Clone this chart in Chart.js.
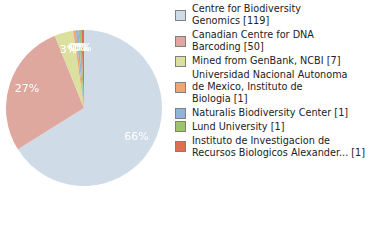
<!DOCTYPE html>
<html>
<head>
<meta charset="utf-8">
<script src="https://cdn.jsdelivr.net/npm/chart.js@4/dist/chart.umd.min.js"></script>
<style>
  body { margin: 0; width: 380px; height: 240px; background: #fff; position: relative; overflow: hidden; font-family: "DejaVu Sans", sans-serif; }
  #wrap { position: absolute; left: 6px; top: 30px; width: 156px; height: 156px; }
  #legend { position: absolute; left: 175px; top: 3px; width: 200px; }
  .item { display: flex; align-items: center; margin-bottom: 1.6px; }
  .box { width: 9px; height: 9px; border: 1px solid #808080; flex: none; margin-right: 6px; }
  .txt { font-size: 9.7px; line-height: 12.2px; color: #222; width: 185px; }
</style>
</head>
<body>
<div id="wrap"><canvas id="pie"></canvas></div>
<div id="legend"></div>
<script>
var labels = [
  ["Centre for Biodiversity", "Genomics"],
  ["Canadian Centre for DNA", "Barcoding"],
  ["Mined from GenBank, NCBI"],
  ["Universidad Nacional Autonoma", "de Mexico, Instituto de", "Biologia"],
  ["Naturalis Biodiversity Center"],
  ["Lund University"],
  ["Instituto de Investigacion de", "Recursos Biologicos Alexander..."]
];
var counts = [119, 50, 7, 1, 1, 1, 1];
var colors = ["#cfdbe7", "#dfa89f", "#dce09f", "#f0a66c", "#8fb3d9", "#9cc46c", "#e06c52"];

var total = counts.reduce(function (a, b) { return a + b; }, 0);

// legend
var legend = document.getElementById("legend");
labels.forEach(function (lines, i) {
  var item = document.createElement("div");
  item.className = "item";
  var box = document.createElement("div");
  box.className = "box";
  box.style.background = colors[i];
  var txt = document.createElement("div");
  txt.className = "txt";
  var copy = lines.slice();
  copy[copy.length - 1] += " [" + counts[i] + "]";
  txt.innerHTML = copy.join("<br>");
  item.appendChild(box);
  item.appendChild(txt);
  legend.appendChild(item);
});

var pctLabels = {
  id: "pctLabels",
  afterDatasetsDraw: function (chart) {
    var ctx = chart.ctx;
    var meta = chart.getDatasetMeta(0);
    ctx.save();
    ctx.font = "11px 'DejaVu Sans'";
    ctx.fillStyle = "#fff";
    ctx.textAlign = "center";
    ctx.textBaseline = "middle";
    meta.data.forEach(function (arc, i) {
      var mid = (arc.startAngle + arc.endAngle) / 2;
      var r = arc.outerRadius * 0.77;
      var x = arc.x + Math.cos(mid) * r;
      var y = arc.y + Math.sin(mid) * r;
      var pct = Math.floor(counts[i] / total * 100);
      ctx.fillText(pct + "%", x, y);
    });
    ctx.restore();
  }
};

new Chart(document.getElementById("pie"), {
  type: "pie",
  data: {
    labels: labels.map(function (l) { return l.join(" "); }),
    datasets: [{
      data: counts,
      backgroundColor: colors,
      borderWidth: 0
    }]
  },
  options: {
    responsive: true,
    maintainAspectRatio: false,
    animation: false,
    layout: { padding: 0 },
    plugins: {
      legend: { display: false },
      tooltip: { enabled: false }
    }
  },
  plugins: [pctLabels]
});
</script>
</body>
</html>
